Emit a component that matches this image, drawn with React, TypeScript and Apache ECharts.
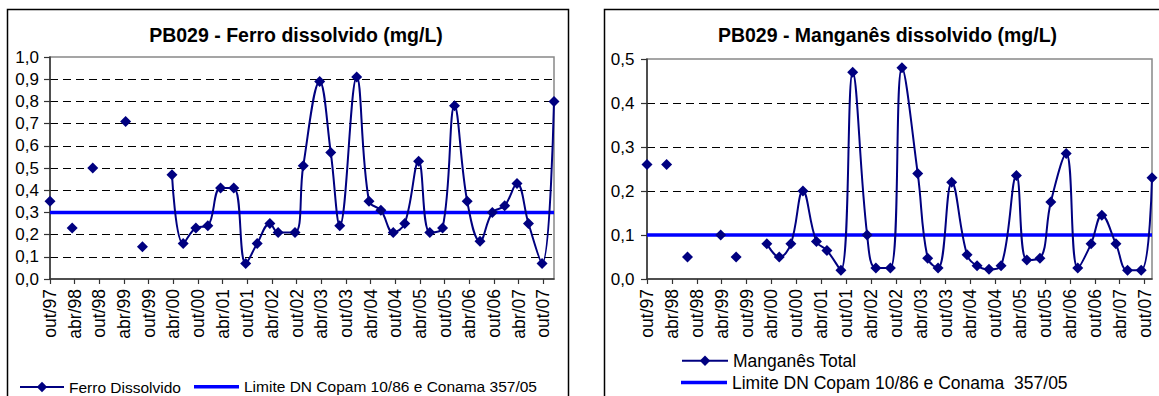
import React, { useEffect, useRef } from "react";
import * as echarts from "echarts";

// ---------- data ----------
const START_DATE = "1997-10-15"; // first sampling date = axis origin (out/97)

const xTickLabels = [
  "out/97", "abr/98", "out/98", "abr/99", "out/99", "abr/00", "out/00",
  "abr/01", "out/01", "abr/02", "out/02", "abr/03", "out/03", "abr/04",
  "out/04", "abr/05", "out/05", "abr/06", "out/06", "abr/07", "out/07",
];

// Ferro dissolvido (mg/L) – early isolated samples
const ferroSparseDates = ["1997-10-15", "1998-03-27", "1998-08-27", "1999-04-27", "1999-08-30"];
const ferroSparseValues = [0.35, 0.23, 0.5, 0.71, 0.145];
// Ferro dissolvido – continuous series
const ferroDates = [
  "2000-04-05", "2000-06-27", "2000-09-30", "2000-12-27", "2001-03-30", "2001-07-06",
  "2001-10-03", "2001-12-27", "2002-03-30", "2002-05-30", "2002-10-03", "2002-12-03",
  "2003-04-03", "2003-06-24", "2003-08-30", "2004-01-03", "2004-04-03", "2004-06-30",
  "2004-09-30", "2004-12-24", "2005-04-05", "2005-06-27", "2005-09-30", "2005-12-27",
  "2006-03-30", "2006-07-03", "2006-10-03", "2007-01-03", "2007-04-03", "2007-06-27",
  "2007-10-06", "2008-01-03",
];
const ferroValues = [
  0.47, 0.16, 0.23, 0.24, 0.41, 0.41,
  0.07, 0.16, 0.25, 0.21, 0.21, 0.51,
  0.89, 0.57, 0.24, 0.91, 0.35, 0.31,
  0.21, 0.25, 0.53, 0.21, 0.23, 0.78,
  0.35, 0.17, 0.3, 0.33, 0.43, 0.25,
  0.07, 0.8,
];
const ferroLimit = 0.3;

// Manganês (mg/L) – early isolated samples
const mnSparseDates = ["1997-10-15", "1998-03-07", "1998-08-08", "1999-04-08", "1999-07-30"];
const mnSparseValues = [0.26, 0.26, 0.05, 0.1, 0.05];
// Manganês – continuous series
const mnDates = [
  "2000-03-12", "2000-06-12", "2000-09-06", "2000-12-03", "2001-03-11", "2001-05-27",
  "2001-09-08", "2001-12-03", "2002-03-18", "2002-05-21", "2002-09-06", "2002-11-30",
  "2003-03-24", "2003-06-06", "2003-08-21", "2003-11-30", "2004-03-21", "2004-06-03",
  "2004-08-30", "2004-11-27", "2005-03-18", "2005-06-03", "2005-09-08", "2005-11-27",
  "2006-03-18", "2006-06-12", "2006-09-18", "2006-12-06", "2007-03-18", "2007-06-12",
  "2007-09-21", "2007-12-09",
];
const mnValues = [
  0.08, 0.05, 0.08, 0.2, 0.085, 0.065,
  0.02, 0.47, 0.1, 0.025, 0.025, 0.48,
  0.24, 0.047, 0.025, 0.22, 0.055, 0.03,
  0.022, 0.03, 0.235, 0.043, 0.047, 0.175,
  0.285, 0.025, 0.08, 0.145, 0.08, 0.02,
  0.02, 0.23,
];
const mnLimit = 0.1;

const titleFerro = "PB029 - Ferro dissolvido (mg/L)";
const titleMn = "PB029 - Manganês dissolvido (mg/L)";
const nameFerro = "Ferro Dissolvido";
const nameFerroLimit = "Limite DN Copam 10/86 e Conama 357/05";
const nameMn = "Manganês Total";
const nameMnLimit = "Limite DN Copam 10/86 e Conama  357/05";

// ---------- helpers ----------
const FONT = "'Liberation Sans', Arial, Helvetica, sans-serif";
const NAVY = "#000080";
const BLUE = "#0000FF";

function monthOffset(d: string): number {
  const [y, m, day] = d.split("-").map(Number);
  const [y0, m0, d0] = START_DATE.split("-").map(Number);
  return (y - y0) * 12 + (m - m0) + (day - d0) / 30.4;
}

function buildData(sDates: string[], sVals: number[], dates: string[], vals: number[]) {
  const out: any[] = [];
  sDates.forEach((d, i) => {
    const x = monthOffset(d);
    out.push([x, sVals[i]]);
    out.push([x, null]); // isolated sample: break the line
  });
  dates.forEach((d, i) => out.push([monthOffset(d), vals[i]]));
  return out;
}

const tickValues = xTickLabels.map((_, i) => i * 6);

function xLabel(v: number): string {
  const i = Math.round(v / 6);
  return Math.abs(v - i * 6) < 1e-6 && xTickLabels[i] ? xTickLabels[i] : "";
}

function xAxisOpt(gridIndex: number, max: number) {
  return {
    gridIndex,
    type: "value",
    min: 0,
    max,
    interval: 6,
    axisLine: { show: true, onZero: false, lineStyle: { color: "#333", width: 1.5 } },
    axisTick: { show: true, length: 5, customValues: tickValues, lineStyle: { color: "#333", width: 1.2 } },
    axisLabel: {
      rotate: 90,
      margin: 10,
      fontSize: 17.5,
      fontFamily: FONT,
      color: "#000",
      customValues: tickValues,
      formatter: xLabel,
    },
    splitLine: { show: false },
  };
}

function yAxisOpt(gridIndex: number, max: number, margin: number) {
  return {
    gridIndex,
    type: "value",
    min: 0,
    max,
    interval: 0.1,
    axisLine: { show: true, lineStyle: { color: "#333", width: 1.5 } },
    axisTick: { show: true, length: 6, lineStyle: { color: "#333", width: 1.2 } },
    axisLabel: {
      margin,
      fontSize: 17,
      fontFamily: FONT,
      color: "#000",
      formatter: (v: number) => v.toFixed(1).replace(".", ","),
    },
    splitLine: {
      show: true,
      showMinLine: false,
      showMaxLine: false,
      lineStyle: { color: "#000", width: 1, type: [8, 5] },
    },
  };
}

export default function App() {
  const ref = useRef<HTMLDivElement>(null);

  useEffect(() => {
    if (!ref.current) return;
    const chart = echarts.init(ref.current, null, { renderer: "svg" });

    const ferroMax = monthOffset(ferroDates[ferroDates.length - 1]);
    const mnMax = monthOffset(mnDates[mnDates.length - 1]);

    const lineSeries = (name: string, data: any[], xi: number) => ({
      name,
      type: "line",
      xAxisIndex: xi,
      yAxisIndex: xi,
      data,
      smooth: 0.4,
      symbol: "diamond",
      symbolSize: 11,
      showSymbol: true,
      showAllSymbol: true,
      connectNulls: false,
      silent: true,
      lineStyle: { color: NAVY, width: 2 },
      itemStyle: { color: NAVY },
      z: 3,
    });
    const limitSeries = (name: string, max: number, lim: number, xi: number) => ({
      name,
      type: "line",
      xAxisIndex: xi,
      yAxisIndex: xi,
      data: [[0, lim], [max, lim]],
      symbol: "none",
      silent: true,
      lineStyle: { color: BLUE, width: 3.5 },
      itemStyle: { color: BLUE },
      z: 2,
    });

    // legend with line + diamond icon (taken from the series)
    const legendLine = (name: string, left: number, top: number, iw: number, fs: number) => ({
      data: [name],
      left,
      top,
      padding: 0,
      itemWidth: iw,
      itemHeight: 13,
      selectedMode: false,
      lineStyle: { width: 2 },
      textStyle: { fontSize: fs, fontFamily: FONT, color: "#000", lineHeight: fs + 1 },
    });
    // legend with a plain thick line icon
    const legendBar = (name: string, left: number, top: number, iw: number, fs: number) => ({
      data: [{ name, icon: "rect" }],
      left,
      top,
      padding: 0,
      itemWidth: iw,
      itemHeight: 3.5,
      selectedMode: false,
      itemStyle: { color: BLUE, borderWidth: 0 },
      textStyle: { fontSize: fs, fontFamily: FONT, color: "#000", lineHeight: fs + 1 },
    });

    chart.setOption({
      animation: false,
      backgroundColor: "#fff",
      textStyle: { fontFamily: FONT },
      grid: [
        { left: 50, top: 57, width: 504, height: 222, show: true, borderColor: "#888", borderWidth: 1.5, backgroundColor: "#fff" },
        { left: 647, top: 59, width: 505, height: 220, show: true, borderColor: "#888", borderWidth: 1.5, backgroundColor: "#fff" },
      ],
      xAxis: [xAxisOpt(0, ferroMax), xAxisOpt(1, mnMax)],
      yAxis: [yAxisOpt(0, 1, 11), yAxisOpt(1, 0.5, 12.5)],
      legend: [
        legendLine(nameFerro, 19, 378.8, 44, 15.5),
        legendBar(nameFerroLimit, 194, 378.5, 45, 15.5),
        legendLine(nameMn, 681, 351.5, 46, 17.5),
        legendBar(nameMnLimit, 681, 373.3, 46, 17.5),
      ],
      graphic: [
        {
          type: "rect",
          silent: true,
          z: -10,
          shape: { x: 7.5, y: 9.5, width: 561, height: 420 },
          style: { fill: "none", stroke: "#000", lineWidth: 1.5 },
        },
        {
          type: "rect",
          silent: true,
          z: -10,
          shape: { x: 604.5, y: 9.5, width: 600, height: 420 },
          style: { fill: "none", stroke: "#000", lineWidth: 1.5 },
        },
        {
          type: "text",
          silent: true,
          x: 296,
          y: 35,
          style: {
            text: titleFerro,
            fill: "#000",
            font: `bold 19.5px ${FONT}`,
            align: "center",
            verticalAlign: "middle",
            textAlign: "center",
            textVerticalAlign: "middle",
          },
        },
        {
          type: "text",
          silent: true,
          x: 887.5,
          y: 35,
          style: {
            text: titleMn,
            fill: "#000",
            font: `bold 19.5px ${FONT}`,
            align: "center",
            verticalAlign: "middle",
            textAlign: "center",
            textVerticalAlign: "middle",
          },
        },
      ],
      series: [
        lineSeries(nameFerro, buildData(ferroSparseDates, ferroSparseValues, ferroDates, ferroValues), 0),
        limitSeries(nameFerroLimit, ferroMax, ferroLimit, 0),
        lineSeries(nameMn, buildData(mnSparseDates, mnSparseValues, mnDates, mnValues), 1),
        limitSeries(nameMnLimit, mnMax, mnLimit, 1),
      ],
    });

    return () => chart.dispose();
  }, []);

  return (
    <div
      ref={ref}
      style={{ position: "absolute", left: 0, top: 0, width: 1159, height: 396, background: "#fff" }}
    />
  );
}
